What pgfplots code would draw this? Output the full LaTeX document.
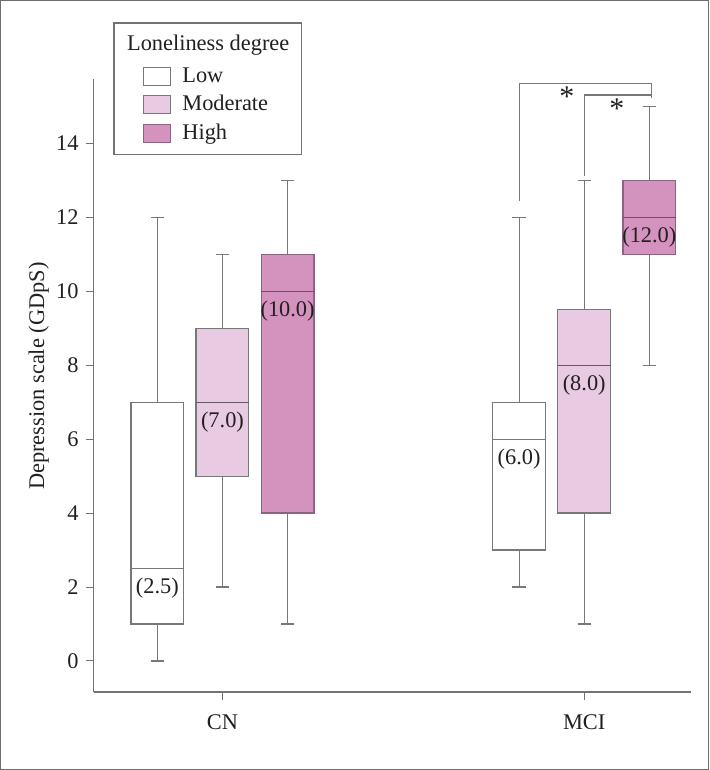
\documentclass[border=0pt]{standalone}
\usepackage{pgfplots}
\pgfplotsset{compat=1.18}
\usepgfplotslibrary{statistics}
\usepackage{fontspec}
\setmainfont{Liberation Serif}
\definecolor{axisgray}{RGB}{115,115,115}
\definecolor{boxgray}{RGB}{120,120,120}
\definecolor{framegray}{RGB}{110,110,110}
\definecolor{modfill}{RGB}{232,202,226}
\definecolor{highfill}{RGB}{212,146,190}
\definecolor{highedge}{RGB}{140,100,130}
\definecolor{highmed}{RGB}{115,75,105}
\definecolor{modmed}{RGB}{100,88,100}
\definecolor{txt}{RGB}{35,31,32}
\newcommand{\fs}{\fontsize{11.2}{13}\selectfont}
\begin{document}
\begin{tikzpicture}
\begin{axis}[
  at={(0,0)}, anchor=south west,
  scale only axis, width=299pt, height=306.85pt,
  xmin=0.644, xmax=2.296, ymin=-0.84, ymax=15.75,
  axis x line*=bottom, axis y line*=left,
  axis line style={-, draw=axisgray, line width=0.6pt},
  xtick={1,2}, xticklabels={CN,MCI},
  ytick={0,2,...,14},
  tick align=outside, major tick length=4pt,
  tick style={draw=axisgray, line width=0.5pt},
  /pgf/number format/assume math mode=true,
  tick label style={font=\fs, text=txt},
  xticklabel style={yshift=-4pt},
  ylabel={Depression scale (GDpS)},
  ylabel style={font=\fs, text=txt, at={(axis description cs:-0.092,0.515)}, anchor=center},
  clip=false,
  boxplot/draw direction=y,
  boxplot/box extend=0.146,
  boxplot/whisker extend=0.037,
  legend style={at={(axis description cs:0.033,1.0917)}, anchor=north west,
    draw=axisgray, line width=0.6pt, font=\fs, text=txt,
    inner xsep=6pt, inner ysep=5.5pt, column sep=5.65pt, row sep=4.25pt,
    nodes={inner sep=0pt, text height=8pt, text depth=2pt}},
  legend cell align=left,
]
% CN
\addplot[draw=boxgray, fill=white, line width=0.6pt, forget plot,
  boxplot prepared={lower whisker=0, lower quartile=1, median=2.5, upper quartile=7, upper whisker=12, draw position=0.82}] coordinates {};
\addplot[draw=boxgray, fill=modfill, line width=0.6pt, forget plot,
  boxplot prepared={lower whisker=2, lower quartile=5, median=7, upper quartile=9, upper whisker=11, draw position=1.0},
  boxplot/every median/.style={draw=modmed}] coordinates {};
\addplot[draw=highedge, fill=highfill, line width=0.6pt, forget plot,
  boxplot prepared={lower whisker=1, lower quartile=4, median=10, upper quartile=11, upper whisker=13, draw position=1.18},
  boxplot/every median/.style={draw=highmed},
  boxplot/every whisker/.style={draw=boxgray}] coordinates {};
% MCI
\addplot[draw=boxgray, fill=white, line width=0.6pt, forget plot,
  boxplot prepared={lower whisker=2, lower quartile=3, median=6, upper quartile=7, upper whisker=12, draw position=1.82}] coordinates {};
\addplot[draw=boxgray, fill=modfill, line width=0.6pt, forget plot,
  boxplot prepared={lower whisker=1, lower quartile=4, median=8, upper quartile=9.5, upper whisker=13, draw position=2.0},
  boxplot/every median/.style={draw=modmed}] coordinates {};
\addplot[draw=highedge, fill=highfill, line width=0.6pt, forget plot,
  boxplot prepared={lower whisker=8, lower quartile=11, median=12, upper quartile=13, upper whisker=15, draw position=2.18},
  boxplot/every median/.style={draw=highmed},
  boxplot/every whisker/.style={draw=boxgray}] coordinates {};
% median labels
\node[font=\fs, text=txt, yshift=-10pt] at (axis cs:0.82,2.5) {(2.5)};
\node[font=\fs, text=txt, yshift=-10pt] at (axis cs:1.0,7) {(7.0)};
\node[font=\fs, text=txt, yshift=-10pt] at (axis cs:1.18,10) {(10.0)};
\node[font=\fs, text=txt, yshift=-10pt] at (axis cs:1.82,6) {(6.0)};
\node[font=\fs, text=txt, yshift=-10pt] at (axis cs:2.0,8) {(8.0)};
\node[font=\fs, text=txt, yshift=-10pt] at (axis cs:2.18,12) {(12.0)};
% significance brackets
\draw[boxgray, line width=0.6pt] (axis cs:1.82,12.45) |- (axis cs:2.185,15.61) -- (axis cs:2.185,15.23);
\draw[boxgray, line width=0.6pt] (axis cs:2.0,13.12) |- (axis cs:2.185,15.31);
\node[font=\fontsize{15}{17}\selectfont, text=txt, anchor=center, yshift=-2.4pt] at (axis cs:1.952,15.38) {*};
\node[font=\fontsize{15}{17}\selectfont, text=txt, anchor=center, yshift=-2.4pt] at (axis cs:2.09,15.07) {*};
% legend
\addlegendimage{empty legend}
\addlegendentry[text depth=4pt]{\hspace*{-27.65pt}Loneliness degree}
\addlegendimage{legend image code/.code={\path (0pt,0pt); \draw[draw=boxgray, fill=white, line width=0.5pt] (8.5pt,-4.5pt) rectangle (22pt,4.5pt);}}
\addlegendentry{Low}
\addlegendimage{legend image code/.code={\path (0pt,0pt); \draw[draw=boxgray, fill=modfill, line width=0.5pt] (8.5pt,-4.5pt) rectangle (22pt,4.5pt);}}
\addlegendentry{Moderate}
\addlegendimage{legend image code/.code={\path (0pt,0pt); \draw[draw=highedge, fill=highfill, line width=0.5pt] (8.5pt,-4.5pt) rectangle (22pt,4.5pt);}}
\addlegendentry{High}
\end{axis}
\draw[framegray, line width=0.75pt] (-46.5pt,-38.65pt) rectangle (307.5pt,345.85pt);
\end{tikzpicture}
\end{document}
